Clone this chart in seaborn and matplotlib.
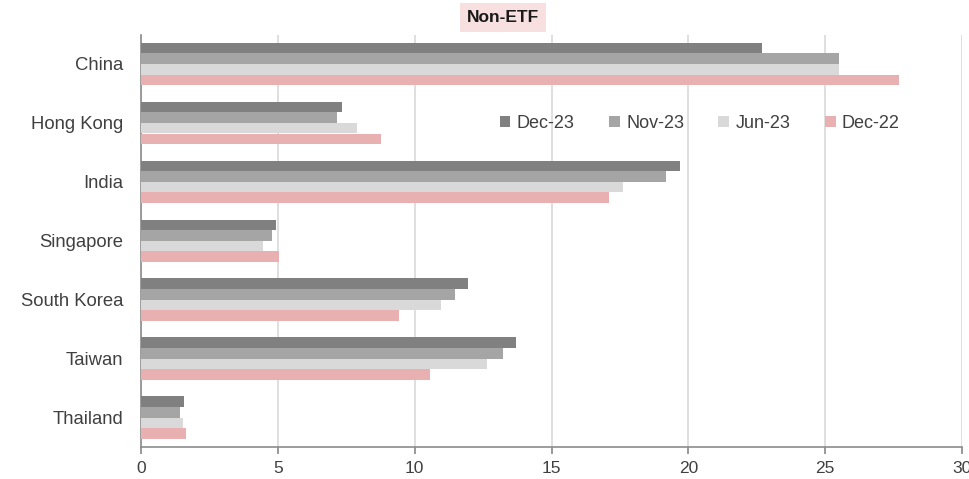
import matplotlib
matplotlib.use("Agg")
import matplotlib.pyplot as plt
import seaborn as sns
import pandas as pd

markets = ["China", "Hong Kong", "India", "Singapore", "South Korea", "Taiwan", "Thailand"]
periods = ["Dec-23", "Nov-23", "Jun-23", "Dec-22"]
dec23 = [22.7, 7.35, 19.7, 4.93, 11.95, 13.7, 1.57]
nov23 = [25.5, 7.18, 19.2, 4.79, 11.47, 13.23, 1.42]
jun23 = [25.5, 7.9, 17.6, 4.45, 10.96, 12.64, 1.53]
dec22 = [27.7, 8.77, 17.1, 5.04, 9.43, 10.57, 1.64]
palette = ["#808080", "#A5A5A5", "#D9D9D9", "#E8B0B1"]

df = pd.DataFrame({
    "market": markets * 4,
    "period": sum([[p] * len(markets) for p in periods], []),
    "value": dec23 + nov23 + jun23 + dec22,
})

sns.set_theme(style="white")
plt.rcParams["font.family"] = ["Liberation Sans", "DejaVu Sans"]

fig = plt.figure(figsize=(9.7, 4.79), dpi=100)
ax = fig.add_axes([141 / 970, 1 - 447 / 479, (962 - 141) / 970, (447 - 34.5) / 479])

sns.barplot(data=df, y="market", x="value", hue="period", order=markets,
            hue_order=periods, palette=palette, width=0.72, orient="h",
            saturation=1, linewidth=0, ax=ax, zorder=3)

ax.set_xlim(0, 30)
ax.set_xticks(range(0, 31, 5))
ax.set_xlabel("")
ax.set_ylabel("")
ax.grid(axis="x", color="#D9D9D9", linewidth=1.2, zorder=0)
ax.set_axisbelow(True)
for side in ["top", "right"]:
    ax.spines[side].set_visible(False)
for side in ["left", "bottom"]:
    ax.spines[side].set_color("#8C8C8C")
    ax.spines[side].set_linewidth(1.2)
ax.tick_params(axis="x", which="both", bottom=True, length=5, color="#8C8C8C",
               labelsize=12.5, labelcolor="#404040", pad=5)
ax.tick_params(axis="y", left=False, length=0, labelsize=13.3, labelcolor="#404040", pad=13)

leg = ax.legend(loc="center left", bbox_to_anchor=(0.417, 0.784), ncol=4, frameon=False,
                fontsize=13, handlelength=0.6, handleheight=0.6, handletextpad=0.35,
                columnspacing=1.9, labelcolor="#404040")

fig.text(503 / 970, 1 - 17.5 / 479, "Non-ETF", ha="center", va="center", fontsize=12.5,
         fontweight="bold", color="#1A1A1A",
         bbox=dict(boxstyle="square,pad=0.4", facecolor="#F8E0E0", edgecolor="none"))

fig.savefig("out.png", dpi=100)
